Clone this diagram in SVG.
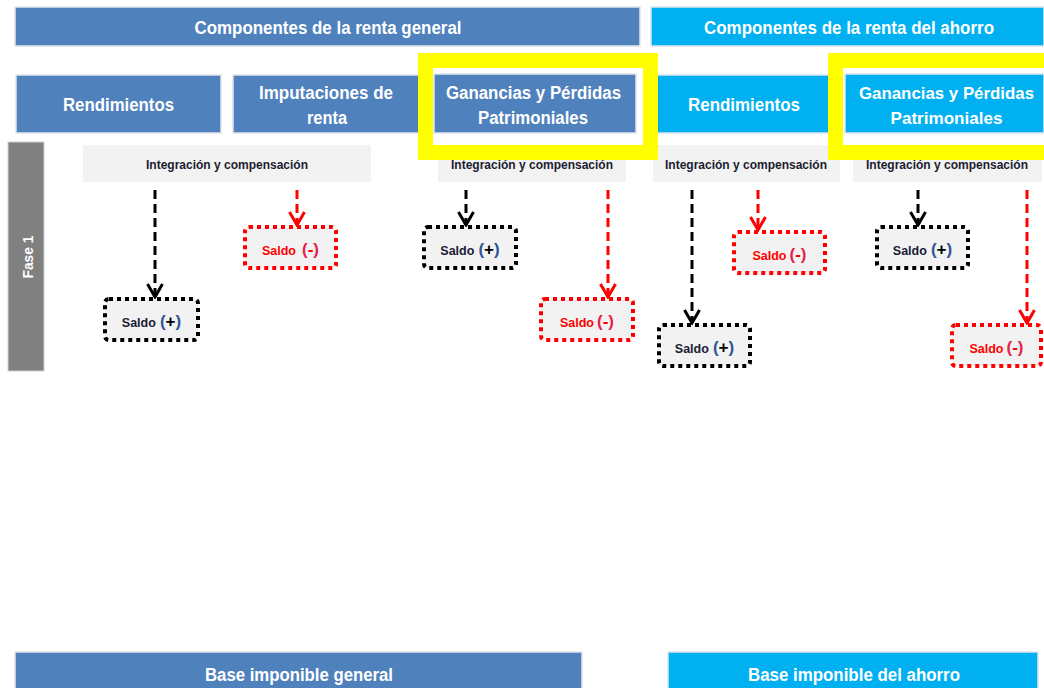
<svg xmlns="http://www.w3.org/2000/svg" width="1044" height="688" viewBox="0 0 1044 688">
  <style>
    .gen { fill: #4F81BD; stroke: #dfe5ec; stroke-width: 1.5; }
    .aho { fill: #00B0F0; stroke: #dfe5ec; stroke-width: 1.5; }
    .hdr { font-family: "Liberation Sans Narrow", "Liberation Sans", Arial, sans-serif; font-weight: bold; fill: #ffffff; text-anchor: middle; }
    .t18 { font-size: 18px; }
    .t17 { font-size: 17px; }
    .integ { fill: #F2F2F2; }
    .itxt { font-family: "Liberation Sans Narrow", "Liberation Sans", Arial, sans-serif; font-weight: bold; font-size: 13px; fill: #1c1c30; text-anchor: middle; }
    .fase { fill: #808080; stroke: #d0d0d0; stroke-width: 1; }
    .saldo-pos { fill: #F2F2F2; stroke: #000000; stroke-width: 4; stroke-dasharray: 4 4; }
    .saldo-neg { fill: #F2F2F2; stroke: #FF0000; stroke-width: 4; stroke-dasharray: 4 4; }
    .st { font-family: "Liberation Sans Narrow", "Liberation Sans", Arial, sans-serif; font-weight: bold; text-anchor: middle; }
    .sl { font-size: 12.5px; }
    .pm { font-size: 17px; }
    .blk { fill: #1a1a36; }
    .red { fill: #FF0000; }
    .par-k { fill: #2F5597; }
    .par-r { fill: #E8204A; }
    .arrow-k { fill: none; stroke: #000000; stroke-width: 3; stroke-dasharray: 9 5; marker-end: url(#headK); }
    .arrow-r { fill: none; stroke: #FF0000; stroke-width: 3; stroke-dasharray: 9 5; marker-end: url(#headR); }
    .hl { fill: none; stroke: #FFFF00; stroke-width: 15; }
  </style>
  <defs>
    <marker id="headK" markerUnits="userSpaceOnUse" markerWidth="20" markerHeight="20" refX="0" refY="0" orient="auto" overflow="visible">
      <path d="M-13,-7.5 L0,0 L-13,7.5" fill="none" stroke="#000000" stroke-width="3"/>
    </marker>
    <marker id="headR" markerUnits="userSpaceOnUse" markerWidth="20" markerHeight="20" refX="0" refY="0" orient="auto" overflow="visible">
      <path d="M-13,-7.5 L0,0 L-13,7.5" fill="none" stroke="#FF0000" stroke-width="3"/>
    </marker>
  </defs>

  <rect width="1044" height="688" fill="#ffffff"/>

  <!-- top banners -->
  <g id="banner-general">
    <rect class="gen" x="15" y="7" width="625" height="39"/>
    <text class="hdr t18" x="328" y="34" textLength="267" lengthAdjust="spacingAndGlyphs">Componentes de la renta general</text>
  </g>
  <g id="banner-ahorro">
    <rect class="aho" x="651" y="7" width="393" height="39"/>
    <text class="hdr t18" x="849" y="34" textLength="290" lengthAdjust="spacingAndGlyphs">Componentes de la renta del ahorro</text>
  </g>

  <!-- income categories -->
  <g id="cat-rendimientos-general">
    <rect class="gen" x="16" y="75" width="205" height="58"/>
    <text class="hdr t18" x="118.5" y="111" textLength="111" lengthAdjust="spacingAndGlyphs">Rendimientos</text>
  </g>
  <g id="cat-imputaciones">
    <rect class="gen" x="233" y="75" width="190" height="58"/>
    <text class="hdr t18" x="326" y="99" textLength="134" lengthAdjust="spacingAndGlyphs">Imputaciones de</text>
    <text class="hdr t18" x="327" y="124" textLength="40" lengthAdjust="spacingAndGlyphs">renta</text>
  </g>
  <g id="cat-ganancias-general">
    <rect class="gen" x="434" y="74" width="202" height="59"/>
    <text class="hdr t18" x="533.5" y="99" textLength="175" lengthAdjust="spacingAndGlyphs">Ganancias y Pérdidas</text>
    <text class="hdr t18" x="533" y="124" textLength="110" lengthAdjust="spacingAndGlyphs">Patrimoniales</text>
  </g>
  <g id="cat-rendimientos-ahorro">
    <rect class="aho" x="657" y="75" width="175" height="58"/>
    <text class="hdr t18" x="744" y="111" textLength="112" lengthAdjust="spacingAndGlyphs">Rendimientos</text>
  </g>
  <g id="cat-ganancias-ahorro">
    <rect class="aho" x="845" y="74" width="199" height="59"/>
    <text class="hdr t17" x="946.5" y="99" textLength="175" lengthAdjust="spacingAndGlyphs">Ganancias y Pérdidas</text>
    <text class="hdr t17" x="946.5" y="124" textLength="112" lengthAdjust="spacingAndGlyphs">Patrimoniales</text>
  </g>

  <!-- phase label -->
  <g id="fase-1">
    <rect class="fase" x="8" y="142" width="36" height="229"/>
    <text transform="translate(33,257) rotate(-90)" font-family="Liberation Sans, Arial, sans-serif" font-weight="bold" font-size="14" fill="#ffffff" text-anchor="middle" textLength="43" lengthAdjust="spacingAndGlyphs">Fase 1</text>
  </g>

  <!-- integration and offset headers -->
  <g id="integ-1">
    <rect class="integ" x="83" y="145" width="288" height="37"/>
    <text class="itxt" x="227" y="169" textLength="162" lengthAdjust="spacingAndGlyphs">Integración y compensación</text>
  </g>
  <g id="integ-2">
    <rect class="integ" x="438" y="145" width="188" height="37"/>
    <text class="itxt" x="532" y="169" textLength="162" lengthAdjust="spacingAndGlyphs">Integración y compensación</text>
  </g>
  <g id="integ-3">
    <rect class="integ" x="653" y="145" width="187" height="37"/>
    <text class="itxt" x="746" y="169" textLength="162" lengthAdjust="spacingAndGlyphs">Integración y compensación</text>
  </g>
  <g id="integ-4">
    <rect class="integ" x="853" y="145" width="189" height="37"/>
    <text class="itxt" x="947" y="169" textLength="162" lengthAdjust="spacingAndGlyphs">Integración y compensación</text>
  </g>

  <!-- connectors -->
  <g id="connectors">
    <line class="arrow-k" x1="155" y1="190" x2="155" y2="297"/>
    <line class="arrow-r" x1="297" y1="190" x2="297" y2="225"/>
    <line class="arrow-k" x1="466" y1="190" x2="466" y2="225"/>
    <line class="arrow-r" x1="608" y1="190" x2="608" y2="297"/>
    <line class="arrow-k" x1="692" y1="190" x2="692" y2="323"/>
    <line class="arrow-r" x1="758" y1="190" x2="758" y2="230"/>
    <line class="arrow-k" x1="918" y1="190" x2="918" y2="225"/>
    <line class="arrow-r" x1="1027" y1="190" x2="1027" y2="323"/>
  </g>

  <!-- balances -->
  <g id="saldo-pos-1">
    <rect class="saldo-pos" x="105" y="299" width="93" height="41" rx="4"/>
    <text class="st" x="151.5" y="327"><tspan class="sl blk">Saldo</tspan><tspan class="pm par-k" dx="4">(</tspan><tspan class="pm" fill="#000000">+</tspan><tspan class="pm par-k">)</tspan></text>
  </g>
  <g id="saldo-neg-1">
    <rect class="saldo-neg" x="245" y="227" width="91" height="41" rx="4"/>
    <text class="st" x="290.5" y="255"><tspan class="sl red">Saldo</tspan><tspan class="pm par-r" dx="6">(</tspan><tspan class="pm red">-</tspan><tspan class="pm par-r">)</tspan></text>
  </g>
  <g id="saldo-pos-2">
    <rect class="saldo-pos" x="424" y="227" width="92" height="41" rx="4"/>
    <text class="st" x="470" y="255"><tspan class="sl blk">Saldo</tspan><tspan class="pm par-k" dx="4">(</tspan><tspan class="pm" fill="#000000">+</tspan><tspan class="pm par-k">)</tspan></text>
  </g>
  <g id="saldo-neg-2">
    <rect class="saldo-neg" x="541" y="299" width="92" height="41" rx="4"/>
    <text class="st" x="587" y="327"><tspan class="sl red">Saldo</tspan><tspan class="pm par-r" dx="3">(</tspan><tspan class="pm red">-</tspan><tspan class="pm par-r">)</tspan></text>
  </g>
  <g id="saldo-pos-3">
    <rect class="saldo-pos" x="659" y="325" width="91" height="41" rx="4"/>
    <text class="st" x="704.5" y="353"><tspan class="sl blk">Saldo</tspan><tspan class="pm par-k" dx="4">(</tspan><tspan class="pm" fill="#000000">+</tspan><tspan class="pm par-k">)</tspan></text>
  </g>
  <g id="saldo-neg-3">
    <rect class="saldo-neg" x="734" y="232" width="91" height="41" rx="4"/>
    <text class="st" x="779.5" y="260"><tspan class="sl red">Saldo</tspan><tspan class="pm par-r" dx="3">(</tspan><tspan class="pm red">-</tspan><tspan class="pm par-r">)</tspan></text>
  </g>
  <g id="saldo-pos-4">
    <rect class="saldo-pos" x="877" y="227" width="91" height="41" rx="4"/>
    <text class="st" x="922.5" y="255"><tspan class="sl blk">Saldo</tspan><tspan class="pm par-k" dx="4">(</tspan><tspan class="pm" fill="#000000">+</tspan><tspan class="pm par-k">)</tspan></text>
  </g>
  <g id="saldo-neg-4">
    <rect class="saldo-neg" x="952" y="325" width="89" height="41" rx="4"/>
    <text class="st" x="996.5" y="353"><tspan class="sl red">Saldo</tspan><tspan class="pm par-r" dx="3">(</tspan><tspan class="pm red">-</tspan><tspan class="pm par-r">)</tspan></text>
  </g>

  <!-- highlight frames around capital gains and losses -->
  <g id="highlight-general">
    <rect class="hl" x="425.5" y="60.5" width="225" height="92"/>
  </g>
  <g id="highlight-ahorro">
    <rect class="hl" x="835.5" y="60.5" width="230" height="92"/>
  </g>

  <!-- tax bases -->
  <g id="base-general">
    <rect class="gen" x="15" y="652" width="567" height="40"/>
    <text class="hdr t18" x="299" y="681" textLength="188" lengthAdjust="spacingAndGlyphs">Base imponible general</text>
  </g>
  <g id="base-ahorro">
    <rect class="aho" x="668" y="652" width="370" height="40"/>
    <text class="hdr t18" x="854" y="681" textLength="212" lengthAdjust="spacingAndGlyphs">Base imponible del ahorro</text>
  </g>
</svg>
